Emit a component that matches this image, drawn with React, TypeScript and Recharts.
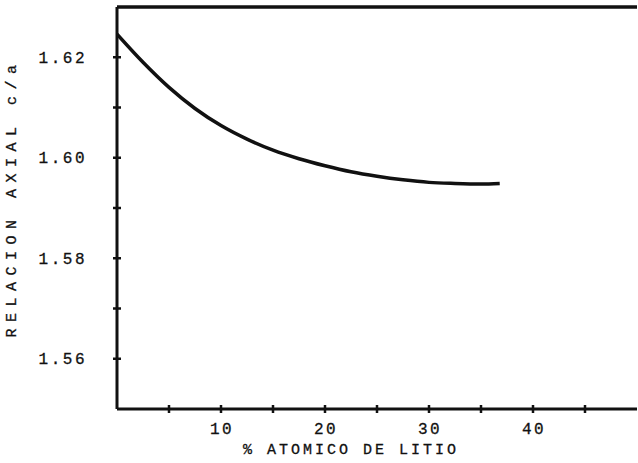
import React from 'react';
import { LineChart, Line, XAxis, YAxis, Label, ReferenceLine } from 'recharts';

const litio = [0, 2.5, 5, 7.5, 10, 12.5, 15, 17.5, 20, 22.5, 25, 27.5, 30, 32.5, 35, 36.8];
const ratio = [1.6246, 1.619, 1.614, 1.6098, 1.6064, 1.6037, 1.6015, 1.5998, 1.5984, 1.5972, 1.5963, 1.5956, 1.5951, 1.5949, 1.5948, 1.5949];
const xTicks = [0, 5, 10, 15, 20, 25, 30, 35, 40, 45, 50];
const xLabels = [10, 20, 30, 40];
const yTicks = [1.55, 1.56, 1.57, 1.58, 1.59, 1.6, 1.61, 1.62, 1.63];
const yLabels = ['1.56', '1.58', '1.60', '1.62'];
const yTop = 1.63;

const data = litio.map((x, i) => ({ x, y: ratio[i] }));

const FONT = '"Liberation Mono", "DejaVu Sans Mono", monospace';
const INK = '#111';

const YTick = (props: any) => {
  const { x, y, payload } = props;
  const v = Number(payload.value);
  const label = v.toFixed(2);
  const inner = v > 1.5505 && v < 1.6295;
  return (
    <g>
      {inner && <line x1={x - 4} x2={x + 4} y1={y} y2={y} stroke={INK} strokeWidth={2.5} />}
      {yLabels.includes(label) && (
        <text x={x - 30} y={y} dy={5.5} textAnchor="end" fontFamily={FONT} fontSize={16} letterSpacing={2.5} fill={INK} stroke={INK} strokeWidth={0.3}>
          {label}
        </text>
      )}
    </g>
  );
};

const XTick = (props: any) => {
  const { x, y, payload } = props;
  const v = Number(payload.value);
  const inner = v > 0.1 && v < 49.9;
  return (
    <g>
      {inner && <line x1={x} x2={x} y1={y - 4} y2={y + 4} stroke={INK} strokeWidth={2.5} />}
      {xLabels.includes(v) && (
        <text x={x + 1} y={y} dy={25} textAnchor="middle" fontFamily={FONT} fontSize={16} letterSpacing={2.5} fill={INK} stroke={INK} strokeWidth={0.3}>
          {String(v)}
        </text>
      )}
    </g>
  );
};

export default function App() {
  return (
    <div style={{ position: 'absolute', left: 0, top: 0, background: '#fff' }}>
      <LineChart width={638} height={463} data={data} margin={{ top: 7, right: 1, bottom: 0, left: 0 }}>
        <XAxis
          dataKey="x"
          type="number"
          domain={[0, 50]}
          ticks={xTicks}
          interval={0}
          allowDataOverflow
          height={54}
          tickSize={0}
          tickMargin={0}
          tickLine={false}
          tick={<XTick />}
          axisLine={{ stroke: INK, strokeWidth: 3 }}
        >
          <Label
            content={(p: any) => {
              const vb = p.viewBox || {};
              return (
                <text
                  x={vb.x + vb.width / 2 - 26}
                  y={454}
                  textAnchor="middle"
                  fontFamily={FONT}
                  fontSize={15}
                  letterSpacing={3}
                  fill={INK}
                  stroke={INK}
                  strokeWidth={0.3}
                >
                  % ATOMICO DE LITIO
                </text>
              );
            }}
          />
        </XAxis>
        <YAxis
          type="number"
          domain={[1.55, 1.63]}
          ticks={yTicks}
          interval={0}
          allowDataOverflow
          width={117}
          tickSize={0}
          tickMargin={0}
          tickLine={false}
          tick={<YTick />}
          axisLine={{ stroke: INK, strokeWidth: 3 }}
        >
          <Label
            content={() => {
              const cx = 16;
              const cy = 198;
              return (
                <text
                  x={cx}
                  y={cy}
                  transform={`rotate(-90, ${cx}, ${cy})`}
                  textAnchor="middle"
                  fontFamily={FONT}
                  fontSize={15}
                  letterSpacing={6.5}
                  fill={INK}
                  stroke={INK}
                  strokeWidth={0.3}
                >
                  RELACION AXIAL c/a
                </text>
              );
            }}
          />
        </YAxis>
        <ReferenceLine y={yTop} stroke={INK} strokeWidth={3.5} />
        <Line
          type="monotone"
          dataKey="y"
          stroke={INK}
          strokeWidth={3.5}
          dot={false}
          activeDot={false}
          isAnimationActive={false}
        />
      </LineChart>
    </div>
  );
}
